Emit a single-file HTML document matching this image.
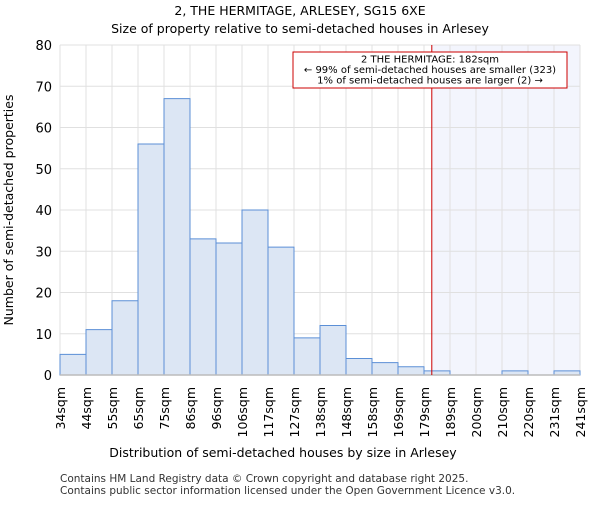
<!DOCTYPE html>
<html><head><meta charset="utf-8"><style>body{margin:0;background:#fff}svg{font-family:"DejaVu Sans","Liberation Sans",sans-serif}</style></head>
<body>
<svg width="600" height="500" id="c">
<text x="300" y="15" text-anchor="middle" font-size="12.5">2, THE HERMITAGE, ARLESEY, SG15 6XE</text>
<text x="300" y="33" text-anchor="middle" font-size="12.5">Size of property relative to semi-detached houses in Arlesey</text>
<g id="plot"></g>
<text x="283" y="457" text-anchor="middle" font-size="12.5">Distribution of semi-detached houses by size in Arlesey</text>
<text transform="translate(13,210) rotate(-90)" text-anchor="middle" font-size="12.5">Number of semi-detached properties</text>
<text x="60" y="482" font-size="10.5" fill="#333">Contains HM Land Registry data © Crown copyright and database right 2025.</text>
<text x="60" y="494" font-size="10.5" fill="#333">Contains public sector information licensed under the Open Government Licence v3.0.</text>
</svg>
<script>
const binLabels=["34sqm","44sqm","55sqm","65sqm","75sqm","86sqm","96sqm","106sqm","117sqm","127sqm","138sqm","148sqm","158sqm","169sqm","179sqm","189sqm","200sqm","210sqm","220sqm","231sqm","241sqm"];
const counts=[5,11,18,56,67,33,32,40,31,9,12,4,3,2,1,0,0,1,0,1];
const yTicks=[0,10,20,30,40,50,60,70,80];
const subjectBinPos=14.3;
const X0=60,X1=580,Y0=375,Y1=45,YMAX=80;
const n=counts.length,bw=(X1-X0)/n;
const xs=i=>X0+i*bw, ys=v=>Y0-(Y0-Y1)*v/YMAX;
const g=document.getElementById('plot');const NS='http://www.w3.org/2000/svg';
function mk(t,a,p){const e=document.createElementNS(NS,t);for(const k in a)e.setAttribute(k,a[k]);(p||g).appendChild(e);return e;}
const rx=xs(subjectBinPos);
let e=mk('rect',{x:rx,y:Y1,width:X1-rx,height:Y0-Y1,fill:'#f3f5fd'});


for(let i=0;i<=n;i++){e=mk('line',{x1:xs(i),x2:xs(i),y1:Y1,y2:Y0,stroke:'#e0e0e0','stroke-width':1});

}
yTicks.forEach(v=>{e=mk('line',{x1:X0,x2:X1,y1:ys(v),y2:ys(v),stroke:'#e0e0e0','stroke-width':1});


e=mk('text',{x:X0-8,y:ys(v)+5,'text-anchor':'end','font-size':13});e.textContent=v;

});
counts.forEach((c,i)=>{if(c<=0)return;e=mk('rect',{x:xs(i),y:ys(c),width:bw,height:Y0-ys(c),fill:'#dce6f4',stroke:'#5b8fd6','stroke-width':1});

});
e=mk('line',{x1:X0,x2:X1,y1:Y0,y2:Y0,stroke:'#bbb','stroke-width':1.5});


binLabels.forEach((l,i)=>{e=mk('text',{transform:`translate(${xs(i)+5},387) rotate(-90)`,'text-anchor':'end','font-size':12.5});e.textContent=l;

});
e=mk('line',{x1:rx,x2:rx,y1:Y1,y2:Y0,stroke:'#cc0000','stroke-width':1});


const box=mk('g',{});


mk('rect',{x:293,y:52,width:274,height:36,fill:'#fff',stroke:'#cc0000','stroke-width':1},box);
["2 THE HERMITAGE: 182sqm","← 99% of semi-detached houses are smaller (323)","1% of semi-detached houses are larger (2) →"].forEach((t,k)=>{const tx=mk('text',{x:430,y:62.5+k*10.5,'text-anchor':'middle','font-size':10},box);tx.textContent=t;});
</script>
</body></html>
